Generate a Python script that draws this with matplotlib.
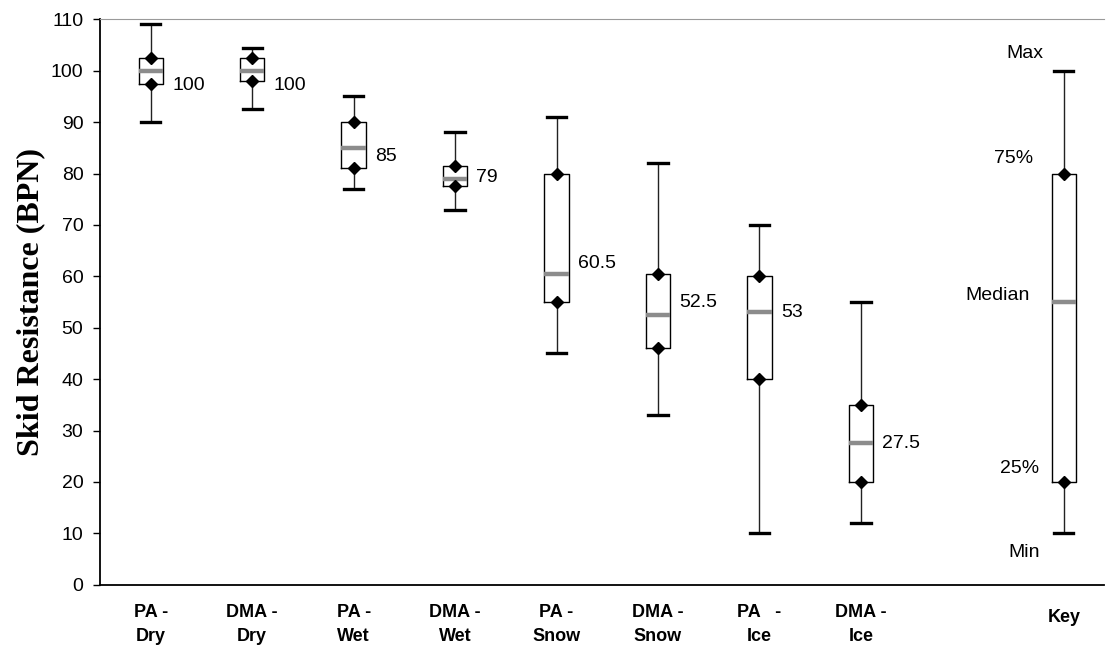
import matplotlib
matplotlib.use("Agg")
import matplotlib.pyplot as plt

categories = ["PA -\nDry", "DMA -\nDry", "PA -\nWet", "DMA -\nWet",
              "PA -\nSnow", "DMA -\nSnow", "PA   -\nIce", "DMA -\nIce"]
mins    = [90, 92.5, 77, 73, 45, 33, 10, 12]
q1s     = [97.5, 98, 81, 77.5, 55, 46, 40, 20]
medians = [100, 100, 85, 79, 60.5, 52.5, 53, 27.5]
q3s     = [102.5, 102.5, 90, 81.5, 80, 60.5, 60, 35]
maxs    = [109, 104.5, 95, 88, 91, 82, 70, 55]
median_labels = ["100", "100", "85", "79", "60.5", "52.5", "53", "27.5"]
label_offsets = [-2.8, -2.8, -1.6, 0.2, 1.9, 2.5, 0, 0]

key_label = "Key"
key_stats = {"whislo": 10, "q1": 20, "med": 55, "q3": 80, "whishi": 100}
key_texts = ["Max", "75%", "Median", "25%", "Min"]
key_text_y = [103.4, 83.0, 56.2, 22.7, 6.2]
key_text_x = [8.62, 8.51, 8.35, 8.56, 8.61]

plt.rcParams["font.family"] = ["Liberation Sans", "DejaVu Sans"]

fig = plt.figure(figsize=(11.08, 6.55), dpi=100)
ax = fig.add_axes([0.0903, 0.1073, 0.9064, 0.8632])

stats = []
for lo, a, m, b, hi in zip(mins, q1s, medians, q3s, maxs):
    stats.append({"whislo": lo, "q1": a, "med": m, "q3": b, "whishi": hi, "fliers": []})
ks = dict(key_stats)
ks["fliers"] = []
stats.append(ks)

positions = list(range(len(categories))) + [len(categories) + 1]

ax.bxp(stats, positions=positions, widths=0.24, capwidths=0.19,
       showfliers=False,
       boxprops=dict(color="black", linewidth=1.0),
       whiskerprops=dict(color="#222222", linewidth=1.0),
       capprops=dict(color="black", linewidth=2.4),
       medianprops=dict(color="#8c8c8c", linewidth=3.2, solid_capstyle="butt"))

all_q1 = [s["q1"] for s in stats]
all_q3 = [s["q3"] for s in stats]
ax.plot(positions, all_q1, linestyle="none", marker="D", color="black", markersize=6, zorder=5)
ax.plot(positions, all_q3, linestyle="none", marker="D", color="black", markersize=6, zorder=5)

for i, (lab, m, off) in enumerate(zip(median_labels, medians, label_offsets)):
    ax.text(i + 0.21, m + off, lab, ha="left", va="center", fontsize=14)

for t, x, y in zip(key_texts, key_text_x, key_text_y):
    ax.text(x, y, t, ha="center", va="center", fontsize=14)

ax.set_xlim(-0.5, 9.4)
ax.set_ylim(0, 110)
ax.set_yticks(range(0, 111, 10))
ax.tick_params(axis="y", labelsize=14, length=5, width=1, direction="out", pad=7)
ax.set_xticks(positions)
ax.set_xticklabels(categories + [""], fontweight="bold", fontsize=13, linespacing=1.55)
ax.tick_params(axis="x", length=0, pad=14)
ax.annotate(key_label, xy=(positions[-1], 0), xycoords=("data", "axes fraction"),
            xytext=(0, -23.5), textcoords="offset points", ha="center", va="center",
            fontweight="bold", fontsize=13)

ax.spines["right"].set_visible(False)
ax.spines["top"].set_color("#9a9a9a")
ax.spines["top"].set_linewidth(0.8)
ax.spines["top"].set_linestyle((0, (2, 1)))
ax.spines["left"].set_linewidth(1.3)
ax.spines["bottom"].set_linewidth(1.3)

ax.set_ylabel("Skid Resistance (BPN)", family=["Liberation Serif"], fontweight="bold",
              fontsize=23, labelpad=4)

fig.savefig("out.png", dpi=100)
